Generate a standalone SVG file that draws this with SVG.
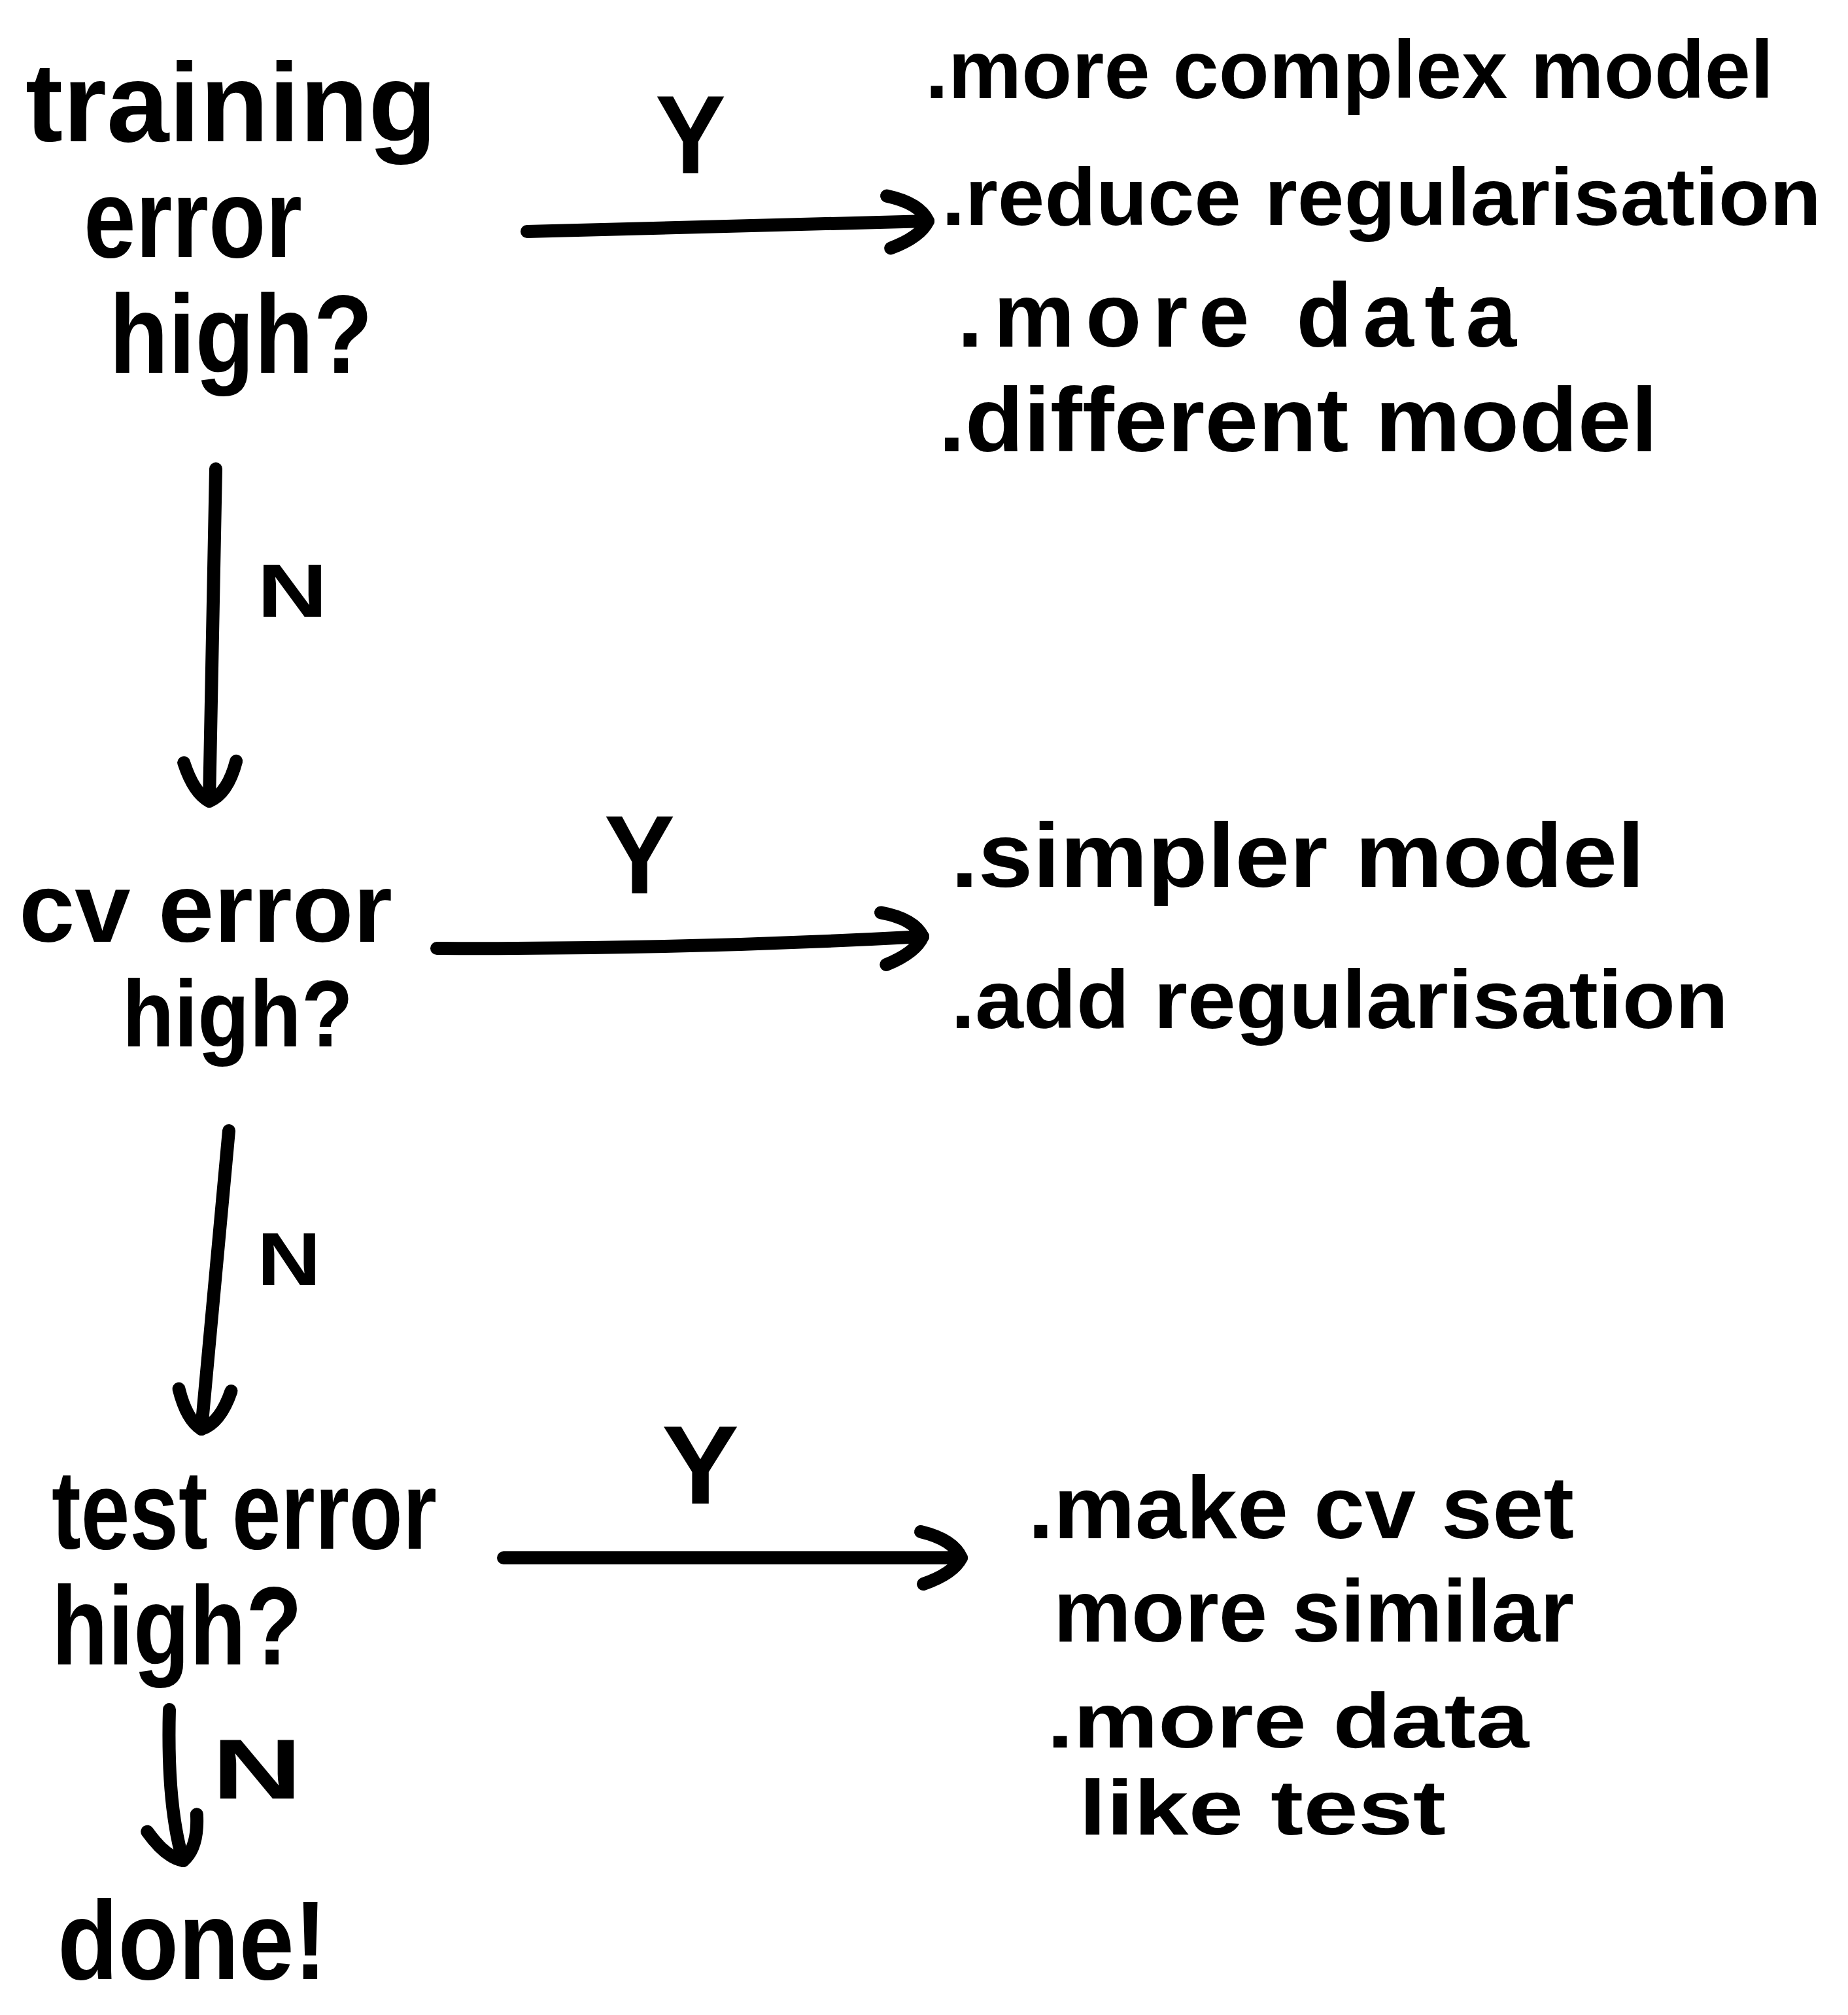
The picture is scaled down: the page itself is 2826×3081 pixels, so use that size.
<svg xmlns="http://www.w3.org/2000/svg" width="2826" height="3081" viewBox="0 0 2826 3081">
<style>
text{font-family:"Liberation Sans","DejaVu Sans",sans-serif;font-weight:bold;fill:#000}
.q{font-size:170px}
.a{font-size:135px}
.lbl{font-size:170px}
.n{font-size:115px}
.conn{fill:none;stroke:#000;stroke-width:20;stroke-linecap:round;stroke-linejoin:round}
</style>
<defs>
<marker id="ah" markerUnits="userSpaceOnUse" viewBox="-100 -60 120 120" markerWidth="120" markerHeight="120" refX="0" refY="0" orient="auto" overflow="visible">
<path d="M-62,-40 Q-12,-28 0,0 Q-12,24 -58,40" fill="none" stroke="#000" stroke-width="20" stroke-linecap="round" stroke-linejoin="round"/>
</marker>
</defs>
<rect width="2826" height="3081" fill="#fff"/>

<g id="node-training">
<text class="q" x="39" y="216" textLength="629" lengthAdjust="spacingAndGlyphs">training</text>
<text class="q" x="128" y="393" textLength="334" lengthAdjust="spacingAndGlyphs">error</text>
<text class="q" x="167" y="570" textLength="403" lengthAdjust="spacingAndGlyphs">high?</text>
</g>

<g id="node-training-actions">
<text class="a" x="1415" y="150" style="font-size:126px" textLength="1297" lengthAdjust="spacingAndGlyphs">.more complex model</text>
<text class="a" x="1440" y="344" style="font-size:124px" textLength="1345" lengthAdjust="spacingAndGlyphs">.reduce regularisation</text>
<text class="a" x="1464" y="530" style="font-size:140px" textLength="855" lengthAdjust="spacing">.more data</text>
<text class="a" x="1435" y="690" style="font-size:140px" textLength="1100" lengthAdjust="spacingAndGlyphs">.different model</text>
</g>

<g id="node-cv">
<text class="q" x="29" y="1440" style="font-size:150px" textLength="571" lengthAdjust="spacingAndGlyphs">cv error</text>
<text class="q" x="187" y="1600" style="font-size:145px" textLength="353" lengthAdjust="spacingAndGlyphs">high?</text>
</g>

<g id="node-cv-actions">
<text class="a" x="1454" y="1356" style="font-size:140px" textLength="1061" lengthAdjust="spacingAndGlyphs">.simpler model</text>
<text class="a" x="1454" y="1572" style="font-size:127px" textLength="1189" lengthAdjust="spacingAndGlyphs">.add regularisation</text>
</g>

<g id="node-test">
<text class="q" x="79" y="2368" textLength="589" lengthAdjust="spacingAndGlyphs">test error</text>
<text class="q" x="79" y="2545" textLength="383" lengthAdjust="spacingAndGlyphs">high?</text>
</g>

<g id="node-test-actions">
<text class="a" x="1572" y="2352" textLength="835" lengthAdjust="spacingAndGlyphs">.make cv set</text>
<text class="a" x="1611" y="2510" textLength="796" lengthAdjust="spacingAndGlyphs">more similar</text>
<text class="a" x="1601" y="2672" style="font-size:118px" textLength="737" lengthAdjust="spacingAndGlyphs">.more data</text>
<text class="a" x="1650" y="2805" style="font-size:118px" textLength="561" lengthAdjust="spacingAndGlyphs">like test</text>
</g>

<g id="node-done">
<text class="q" x="88" y="3026" textLength="412" lengthAdjust="spacingAndGlyphs">done!</text>
</g>

<g id="connectors">
<path class="conn" d="M806,354 L1419,338" marker-end="url(#ah)"/>
<path class="conn" d="M330,717 L320,1225" marker-end="url(#ah)"/>
<path class="conn" d="M668,1450 Q1040,1452 1411,1432" marker-end="url(#ah)"/>
<path class="conn" d="M350,1729 L308,2185" marker-end="url(#ah)"/>
<path class="conn" d="M770,2382 L1470,2382" marker-end="url(#ah)"/>
<path class="conn" d="M259,2614 Q255,2760 280,2845" marker-end="url(#ah)"/>
<text class="lbl" x="1002" y="265" textLength="108" lengthAdjust="spacingAndGlyphs">Y</text>
<text class="lbl" x="924" y="1366" textLength="108" lengthAdjust="spacingAndGlyphs">Y</text>
<text class="lbl" x="1012" y="2299" textLength="118" lengthAdjust="spacingAndGlyphs">Y</text>
<text class="n" x="393" y="943" textLength="108" lengthAdjust="spacingAndGlyphs">N</text>
<text class="n" x="393" y="1965" textLength="98" lengthAdjust="spacingAndGlyphs">N</text>
<text class="n" x="324" y="2750" style="font-size:130px" textLength="138" lengthAdjust="spacingAndGlyphs">N</text>
</g>
</svg>
